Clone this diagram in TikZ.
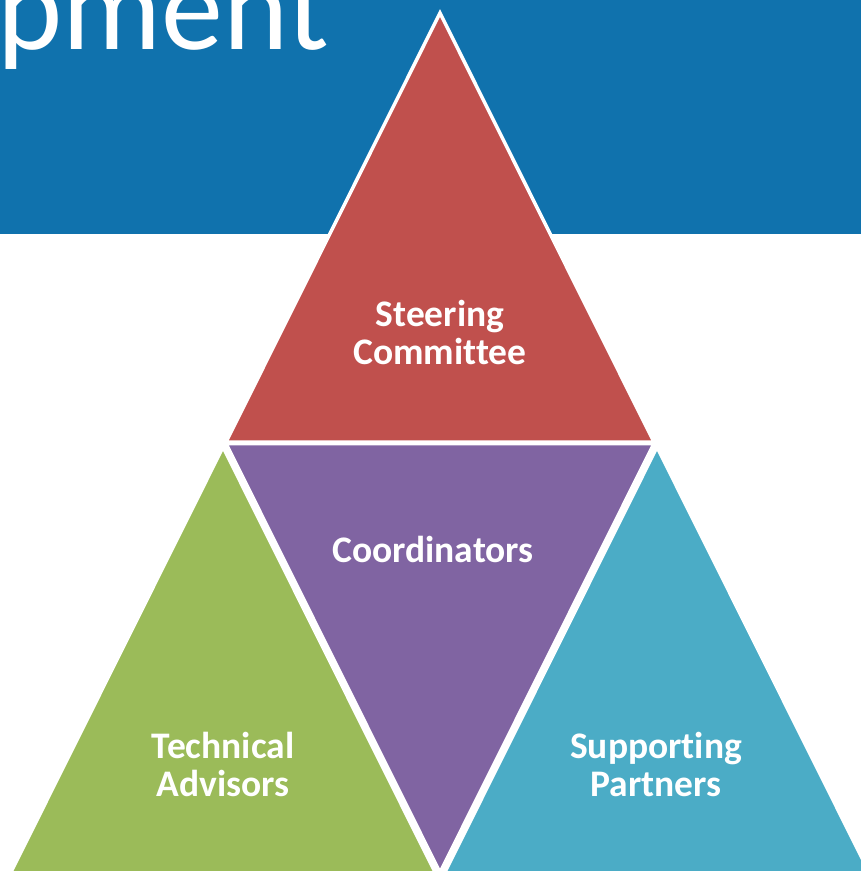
\documentclass[tikz,border=0pt]{standalone}
\usepackage{fontspec}
\setmainfont{Carlito}[Ligatures=NoCommon]
\definecolor{bannerblue}{HTML}{1072AD}
\definecolor{steerred}{HTML}{C0504D}
\definecolor{coordpurple}{HTML}{8064A2}
\definecolor{techgreen}{HTML}{9BBB59}
\definecolor{partneraqua}{HTML}{4BACC6}
\begin{document}
\begin{tikzpicture}[x=1pt,y=-1pt,
        tri/.style={draw=white,line width=3.5pt,line join=miter},
        lbl/.style={text=white,font=\bfseries\fontsize{37.5}{38}\selectfont,align=center,inner sep=0pt}]
            \useasboundingbox (0,0) rectangle (861,871);
            \clip (0,0) rectangle (861,871);

            % Banner
            \fill [bannerblue] (0,0) rectangle (861,234);
            \node [anchor=base east,text=white,inner sep=0pt,font=\fontsize{124}{124}\selectfont] (title) at (329,49) {pment};

            % Triangles
            \filldraw [tri,fill=steerred] (440,13) -- (654,442) -- (226,442) -- cycle;
            \filldraw [tri,fill=coordpurple] (226,443.5) -- (654,443.5) -- (440,872.5) -- cycle;
            \filldraw [tri,fill=techgreen] (223,447) -- (437,876) -- (9,876) -- cycle;
            \filldraw [tri,fill=partneraqua] (657,447) -- (871,876) -- (443,876) -- cycle;

            % Labels
            \node [lbl] (steer) at (440,332) {Steering\\Committee};
            \node [lbl,anchor=base] (coord) at (433,562) {Coordinators};
            \node [lbl] (tech) at (223,764) {Technical\\Advisors};
            \node [lbl] (partner) at (656,764) {Supporting\\Partners};
        \end{tikzpicture}
\end{document}
